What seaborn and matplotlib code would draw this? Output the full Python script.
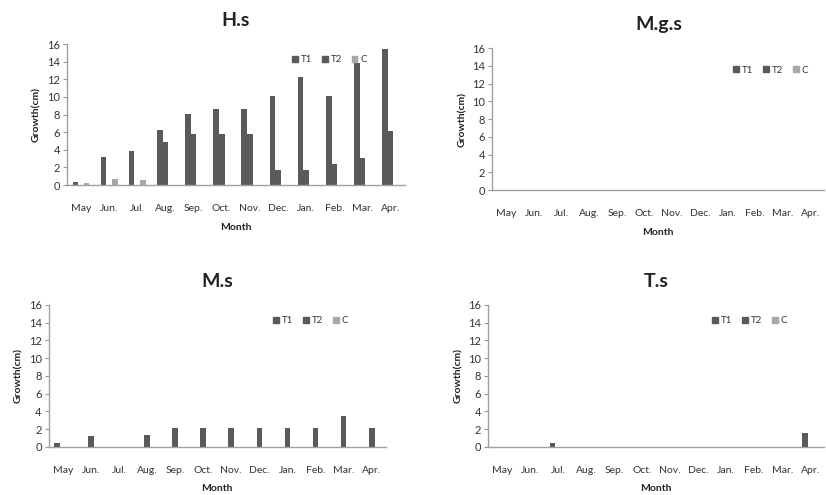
import pandas as pd
import seaborn as sns
import matplotlib.pyplot as plt

months = ['May', 'Jun.', 'Jul.', 'Aug.', 'Sep.', 'Oct.', 'Nov.', 'Dec.', 'Jan.', 'Feb.', 'Mar.', 'Apr.']
treatments = ['T1', 'T2', 'C']

# growth values per species (cm)
hs_t1 = [0.4, 3.2, 3.9, 6.2, 8.1, 8.6, 8.6, 10.1, 12.3, 10.1, 13.8, 15.4]
hs_t2 = [0, 0, 0, 4.9, 5.8, 5.8, 5.8, 1.7, 1.7, 2.4, 3.1, 6.1]
hs_c = [0.25, 0.7, 0.55, 0, 0, 0, 0, 0, 0, 0, 0, 0]

mgs_t1 = [0] * 12
mgs_t2 = [0] * 12
mgs_c = [0] * 12

ms_t1 = [0.4, 0, 0, 0, 0, 0, 0, 0, 0, 0, 0, 0]
ms_t2 = [0, 1.2, 0, 1.4, 2.1, 2.1, 2.1, 2.1, 2.1, 2.1, 3.5, 2.1]
ms_c = [0] * 12

ts_t1 = [0, 0, 0.4, 0, 0, 0, 0, 0, 0, 0, 0, 1.6]
ts_t2 = [0] * 12
ts_c = [0] * 12

panels = [
    ('H.s', hs_t1, hs_t2, hs_c, [0.081, 0.626, 0.409, 0.285], (0.64, 0.89)),
    ('M.g.s', mgs_t1, mgs_t2, mgs_c, [0.596, 0.616, 0.402, 0.287], (0.70, 0.845)),
    ('M.s', ms_t1, ms_t2, ms_c, [0.059, 0.097, 0.408, 0.287], (0.64, 0.89)),
    ('T.s', ts_t1, ts_t2, ts_c, [0.591, 0.097, 0.407, 0.287], (0.64, 0.89)),
]

palette = {'T1': '#5a5a5a', 'T2': '#5a5a5a', 'C': '#a8a8a8'}

sns.set_style('white')
plt.rcParams['font.family'] = ['Lato', 'DejaVu Sans']

fig = plt.figure(figsize=(8.26, 4.95), dpi=100)

for title, t1, t2, c, pos, leg_xy in panels:
    df = pd.DataFrame({
        'Month': months * 3,
        'Treatment': ['T1'] * 12 + ['T2'] * 12 + ['C'] * 12,
        'Growth': t1 + t2 + c,
    })
    ax = fig.add_axes(pos)
    sns.barplot(data=df, x='Month', y='Growth', hue='Treatment', order=months,
                hue_order=treatments, palette=palette, width=0.6, linewidth=0,
                saturation=1, ax=ax, legend=False)
    ax.set_xlim(-0.5, 11.5)
    ax.set_ylim(0, 16)
    ax.set_yticks(range(0, 17, 2))
    ax.tick_params(axis='y', left=True, length=3, width=0.8, color='#999999',
                   labelsize=8, labelcolor='#333333', pad=2)
    ax.tick_params(axis='x', bottom=False, labelsize=7.5, labelcolor='#333333', pad=10)
    for side in ['top', 'right']:
        ax.spines[side].set_visible(False)
    for side in ['left', 'bottom']:
        ax.spines[side].set_color('#a0a0a0')
        ax.spines[side].set_linewidth(1.0)
    ax.set_xlabel('Month', fontsize=7.5, fontweight='bold', color='#222222', labelpad=7)
    ax.set_ylabel('Growth(cm)', fontsize=7.5, fontweight='bold', color='#222222', labelpad=4)
    ax.set_title(title, fontsize=14, fontweight='bold', color='#222222', pad=13)

    handles = [plt.Rectangle((0, 0), 1, 1, color=palette[t]) for t in treatments]
    ax.legend(handles, treatments, loc='center left', bbox_to_anchor=leg_xy, ncol=3,
              frameon=False, fontsize=7, handlelength=0.6, handleheight=0.6,
              handletextpad=0.3, columnspacing=1.0, labelcolor='#333333')

fig.savefig('out.png', dpi=100)
